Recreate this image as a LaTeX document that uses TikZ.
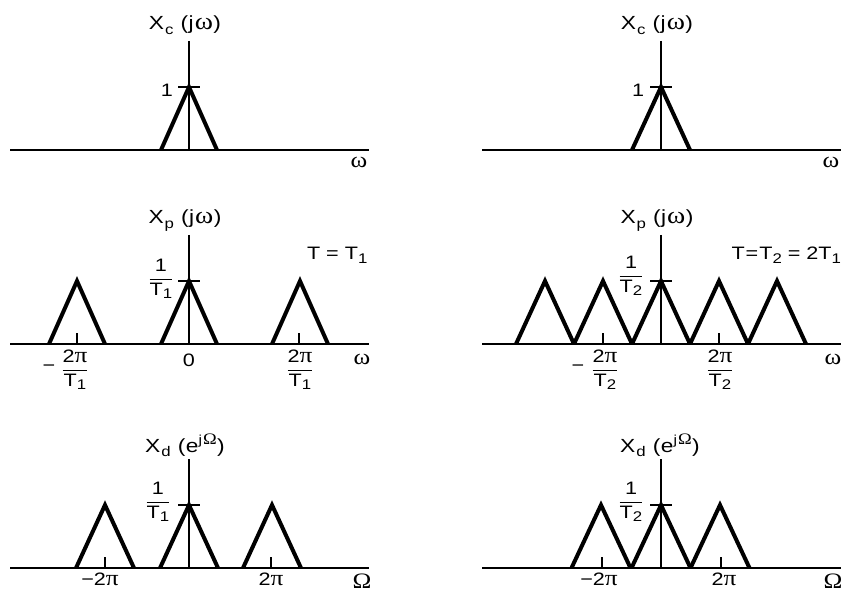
\documentclass[tikz,border=0pt]{standalone}
\usepackage{fontspec}
\setmainfont{Liberation Sans}[FakeStretch=1.2]
\newfontfamily\gk{Liberation Serif}[FakeStretch=1.15]
\newcommand\om{{\gk\fontsize{22}{22}\selectfont ω}}
\newcommand\bom{{\gk\fontsize{24}{24}\selectfont ω}}
\newcommand\pii{{\gk\fontsize{22}{22}\selectfont π}}
\newcommand\OM{{\gk\fontsize{22}{22}\selectfont Ω}}
\newcommand\sOM{{\gk\fontsize{16}{16}\selectfont Ω}}
\newcommand\sbs[1]{\raisebox{-0.4ex}{\fontsize{14}{14}\selectfont #1}}
\newcommand\sps[1]{\raisebox{0.7ex}{\fontsize{13}{13}\selectfont #1}}
\newcommand\tfr[2]{$\displaystyle\frac{\hbox{#1}}{\hbox{#2}}$}
\newcommand\ttl[2]{X\kern1pt\sbs{#1}\hspace{7pt}(\kern0.5pt#2\kern0.5pt)}
\tikzset{
  axisline/.style={line width=1.5pt},
  vaxis/.style={line width=1.2pt},
  spec/.style={line width=4pt, line join=miter, line cap=butt},
  lbl/.style={font=\fontsize{18}{21}\selectfont, inner sep=0pt, outer sep=0pt},
  ttlbl/.style={font=\fontsize{19}{22}\selectfont, inner sep=0pt, outer sep=0pt, anchor=base},
}
\begin{document}
\begin{tikzpicture}[x=1pt,y=-1pt]
\useasboundingbox (0,0) rectangle (842,593);

% ---------- top-left ----------
\draw[spec] (161,150) -- (189,87) -- (217,150);
\draw[axisline] (10,150) -- (369,150);
\draw[vaxis] (189,41) -- (189,150);
\draw[vaxis] (178,87) -- (200,87);
\node[ttlbl] (tlT) at (185,30) {\ttl{c}{j\kern1pt\bom}};
\node[lbl, anchor=base] (tl1) at (167,97) {1};
\node[lbl, anchor=base] (tlw) at (359,168) {\om};

% ---------- top-right ----------
\draw[spec] (632,150) -- (661,87) -- (690,150);
\draw[axisline] (482,150) -- (841,150);
\draw[vaxis] (661,41) -- (661,150);
\draw[vaxis] (650,87) -- (672,87);
\node[ttlbl] (trT) at (657,30) {\ttl{c}{j\kern1pt\bom}};
\node[lbl, anchor=base] (tr1) at (638,97) {1};
\node[lbl, anchor=base] (trw) at (831,168) {\om};

% ---------- middle-left ----------
\foreach \c in {77,189,300}
  \draw[spec] (\c-28,344) -- (\c,281) -- (\c+28,344);
\draw[axisline] (10,344) -- (369,344);
\draw[vaxis] (189,235) -- (189,344);
\draw[vaxis] (178,281) -- (200,281);
\draw[vaxis] (77,333) -- (77,344);
\draw[vaxis] (299,333) -- (299,344);
\node[ttlbl] (mlT) at (185,224) {\ttl{p}{j\kern1pt\bom}};
\node[lbl, anchor=base west] (mlTT) at (307,260) {T = T\sbs{1}};
\node[lbl] (mlf) at (161,279) {\tfr{1}{T\sbs{1}}};
\node[lbl, anchor=base] (ml0) at (189,366) {0};
\node[lbl, anchor=base] (mlw) at (362,364) {\om};
\node[lbl] (mlm) at (49,368) {−};
\node[lbl] (mlfl) at (75,370) {\tfr{2\pii}{T\sbs{1}}};
\node[lbl] (mlfr) at (300,370) {\tfr{2\pii}{T\sbs{1}}};

% ---------- middle-right ----------
\foreach \c in {545,603,661,719,777}
  \draw[spec] (\c-29,344) -- (\c,281) -- (\c+29,344);
\draw[axisline] (482,344) -- (841,344);
\draw[vaxis] (661,235) -- (661,344);
\draw[vaxis] (650,281) -- (672,281);
\draw[vaxis] (603,333) -- (603,344);
\draw[vaxis] (719,333) -- (719,344);
\node[ttlbl] (mrT) at (657,224) {\ttl{p}{j\kern1pt\bom}};
\node[lbl, anchor=base east] (mrTT) at (841,260) {T\kern1pt=\kern1pt T\sbs{2} = 2T\sbs{1}};
\node[lbl] (mrf) at (631,276) {\tfr{1}{T\sbs{2}}};
\node[lbl, anchor=base] (mrw) at (833,364) {\om};
\node[lbl] (mrm) at (578,368) {−};
\node[lbl] (mrfl) at (605,370) {\tfr{2\pii}{T\sbs{2}}};
\node[lbl] (mrfr) at (720,370) {\tfr{2\pii}{T\sbs{2}}};

% ---------- bottom-left ----------
\foreach \c in {105,189,272}
  \draw[spec] (\c-29,568) -- (\c,505) -- (\c+29,568);
\draw[axisline] (10,568) -- (369,568);
\draw[vaxis] (189,459) -- (189,568);
\draw[vaxis] (178,505) -- (200,505);
\draw[vaxis] (105,557) -- (105,568);
\draw[vaxis] (271,557) -- (271,568);
\node[ttlbl] (blT) at (185,452) {\ttl{d}{e\sps{j\kern1pt\sOM}}};
\node[lbl] (blf) at (158,502) {\tfr{1}{T\sbs{1}}};
\node[lbl, anchor=base] (blm) at (100,585) {−2\pii};
\node[lbl, anchor=base] (blp) at (271,585) {2\pii};
\node[lbl, anchor=base] (blO) at (362,588) {\OM};

% ---------- bottom-right ----------
\foreach \c in {601,661,720}
  \draw[spec] (\c-29.5,568) -- (\c,505) -- (\c+29.5,568);
\draw[axisline] (482,568) -- (841,568);
\draw[vaxis] (661,459) -- (661,568);
\draw[vaxis] (650,505) -- (672,505);
\draw[vaxis] (602,557) -- (602,568);
\draw[vaxis] (721,557) -- (721,568);
\node[ttlbl] (brT) at (660,452) {\ttl{d}{e\sps{j\kern1pt\sOM}}};
\node[lbl] (brf) at (631,502) {\tfr{1}{T\sbs{2}}};
\node[lbl, anchor=base] (brm) at (599,585) {−2\pii};
\node[lbl, anchor=base] (brp) at (724,585) {2\pii};
\node[lbl, anchor=base] (brO) at (833,588) {\OM};
\end{tikzpicture}
\end{document}
